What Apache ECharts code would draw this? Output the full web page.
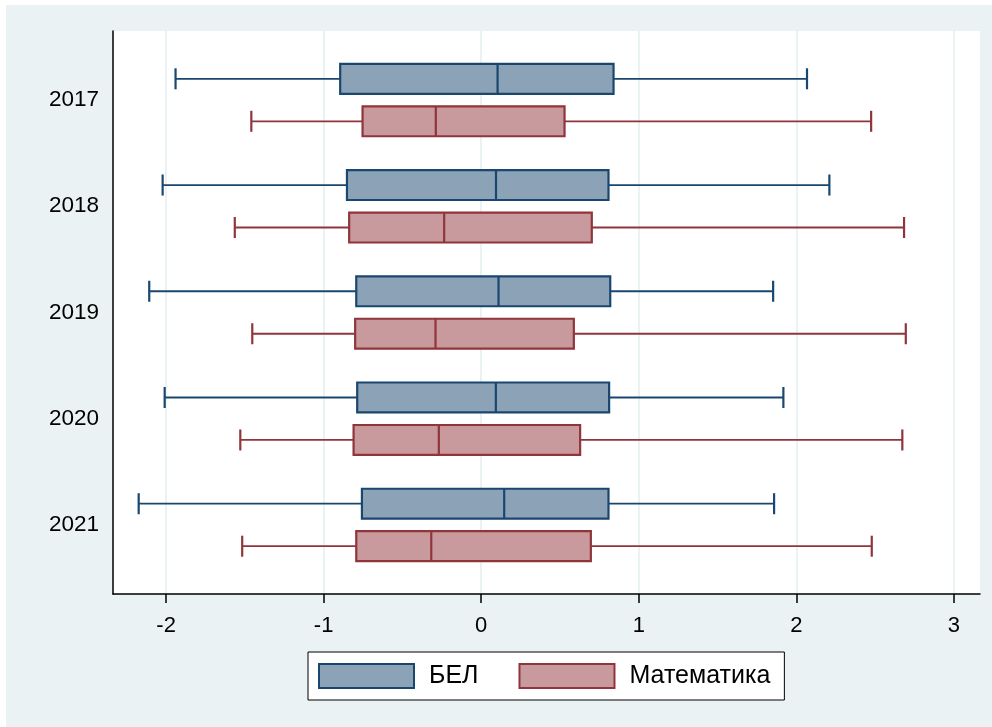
<!DOCTYPE html>
<html><head><meta charset="utf-8">
<script src="https://cdn.jsdelivr.net/npm/echarts@6/dist/echarts.min.js"></script>
<style>html,body{margin:0;padding:0;background:#fff;}#c{position:absolute;left:6px;top:5px;width:986px;height:722px;}</style>
</head><body><div id="c"></div>
<script>
const years = ['2017', '2018', '2019', '2020', '2021'];
// [lower whisker, q1, median, q3, upper whisker]
const belStats = [
  [-1.940, -0.895, 0.104, 0.840, 2.068],
  [-2.022, -0.852, 0.094, 0.808, 2.210],
  [-2.107, -0.793, 0.110, 0.819, 1.853],
  [-2.009, -0.787, 0.093, 0.812, 1.918],
  [-2.174, -0.757, 0.146, 0.808, 1.859]
];
const mathStats = [
  [-1.459, -0.753, -0.288, 0.529, 2.475],
  [-1.564, -0.838, -0.235, 0.702, 2.684],
  [-1.453, -0.800, -0.290, 0.588, 2.695],
  [-1.529, -0.810, -0.269, 0.628, 2.673],
  [-1.517, -0.793, -0.317, 0.696, 2.479]
];
const xTicks = [-2, -1, 0, 1, 2, 3];
const yTicks = [1, 2, 3, 4, 5];
const seriesNames = ['БЕЛ', 'Математика'];

const NAVY = '#1A476F', NAVY_FILL = '#8CA3B7';
const MAROON = '#90353B', MAROON_FILL = '#C89A9D';
const FONT = 'Liberation Sans, Arial, sans-serif';

function toData(stats) {
  return stats.map((s, i) => [i + 1].concat(s));
}

function makeRender(offset, stroke, fill) {
  const bh = 0.141, ch = 0.099;
  return function (params, api) {
    const yc = api.value(0) + offset;
    const lo = api.value(1), q1 = api.value(2), med = api.value(3), q3 = api.value(4), hi = api.value(5);
    const p = (x, y) => api.coord([x, y]);
    const a = p(q1, yc - bh), b = p(q3, yc + bh);
    const c = p(lo, yc), d = p(hi, yc);
    const line = (P, Q, w) => ({
      type: 'line',
      shape: { x1: P[0], y1: P[1], x2: Q[0], y2: Q[1] },
      style: { stroke: stroke, lineWidth: w }
    });
    return {
      type: 'group',
      children: [
        line(c, p(q1, yc), 1.8),
        line(p(q3, yc), d, 1.8),
        line(p(lo, yc - ch), p(lo, yc + ch), 2.2),
        line(p(hi, yc - ch), p(hi, yc + ch), 2.2),
        {
          type: 'rect',
          shape: { x: Math.min(a[0], b[0]), y: Math.min(a[1], b[1]), width: Math.abs(b[0] - a[0]), height: Math.abs(b[1] - a[1]) },
          style: { fill: fill, stroke: stroke, lineWidth: 2.2 }
        },
        line(p(med, yc - bh), p(med, yc + bh), 2.2)
      ]
    };
  };
}

const chart = echarts.init(document.getElementById('c'));
chart.setOption({
  backgroundColor: '#EAF2F3',
  animation: false,
  grid: { left: 107, right: 12, top: 26, bottom: 133, show: true, backgroundColor: '#ffffff', borderWidth: 0 },
  xAxis: {
    type: 'value', min: -2.337, max: 3.166,
    axisLine: { show: true, onZero: false, lineStyle: { color: '#000', width: 1.5 } },
    axisTick: { show: true, customValues: xTicks, length: 9, lineStyle: { color: '#000', width: 1.5 } },
    axisLabel: { customValues: xTicks, fontSize: 22, color: '#000', fontFamily: FONT, margin: 21 },
    splitLine: { show: true, lineStyle: { color: '#EAF2F3', width: 2 } }
  },
  yAxis: {
    type: 'value', inverse: true, min: 0.35, max: 5.65,
    axisLine: { show: true, onZero: false, lineStyle: { color: '#000', width: 1.5 } },
    axisTick: { show: false },
    splitLine: { show: false },
    axisLabel: {
      customValues: yTicks, fontSize: 22.5, color: '#000', fontFamily: FONT, margin: 14,
      padding: [5, 0, 0, 0],
      formatter: v => years[Math.round(v) - 1] || ''
    }
  },
  legend: {
    left: 302, top: 647,
    padding: [11, 14, 11, 10],
    backgroundColor: '#fff', borderColor: '#000', borderWidth: 1,
    itemWidth: 95, itemHeight: 24, itemGap: 40,
    textStyle: { fontSize: 25, color: '#000', fontFamily: FONT, padding: [0, 0, 0, 10] },
    data: [
      { name: seriesNames[0], icon: 'rect', itemStyle: { color: NAVY_FILL, borderColor: NAVY, borderWidth: 2 } },
      { name: seriesNames[1], icon: 'rect', itemStyle: { color: MAROON_FILL, borderColor: MAROON, borderWidth: 2 } }
    ]
  },
  series: [
    {
      name: seriesNames[0], type: 'custom', renderItem: makeRender(-0.2, NAVY, NAVY_FILL),
      encode: { x: [1, 2, 3, 4, 5], y: 0 }, itemStyle: { color: NAVY_FILL, borderColor: NAVY },
      data: toData(belStats)
    },
    {
      name: seriesNames[1], type: 'custom', renderItem: makeRender(0.2, MAROON, MAROON_FILL),
      encode: { x: [1, 2, 3, 4, 5], y: 0 }, itemStyle: { color: MAROON_FILL, borderColor: MAROON },
      data: toData(mathStats)
    }
  ]
});
</script></body></html>
